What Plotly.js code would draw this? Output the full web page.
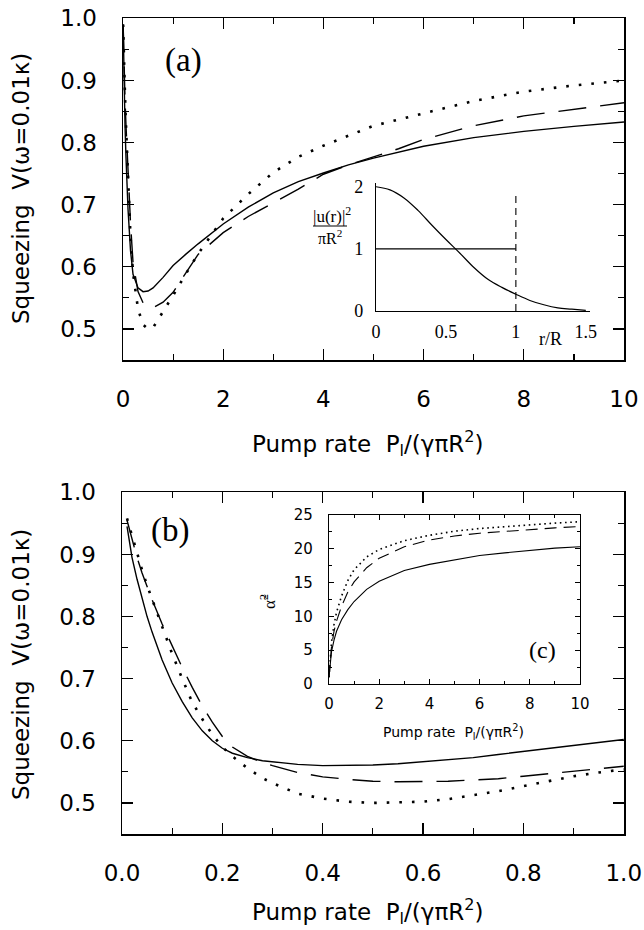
<!DOCTYPE html>
<html>
<head>
<meta charset="utf-8">
<script src="https://cdn.plot.ly/plotly-3.0.1.min.js"></script>
<style>html,body{margin:0;padding:0;background:#fff;}#chart{width:644px;height:930px;}</style>
</head>
<body>
<div id="chart"></div>
<script>
// ---------- Panel (a): squeezing vs pump rate, 0..10 ----------
const aPump = [0.003, 0.01, 0.02, 0.04, 0.06, 0.08, 0.1, 0.15, 0.2, 0.3, 0.4, 0.5, 0.6, 0.8, 1.0, 1.25, 1.5, 2.0, 2.5, 3.0, 3.5, 4.0, 4.5, 5.0, 5.5, 6.0, 7.0, 8.0, 9.0, 10.0];
const aSolid  = [0.99, 0.945, 0.895, 0.828, 0.775, 0.730, 0.693, 0.626, 0.588, 0.566, 0.560, 0.561, 0.566, 0.583, 0.602, 0.620, 0.637, 0.669, 0.696, 0.719, 0.737, 0.751, 0.764, 0.775, 0.784, 0.794, 0.808, 0.818, 0.826, 0.833];
const aDashed = [0.99, 0.955, 0.925, 0.870, 0.827, 0.788, 0.752, 0.670, 0.607, 0.560, 0.542, 0.535, 0.534, 0.543, 0.559, 0.590, 0.620, 0.655, 0.681, 0.703, 0.725, 0.749, 0.764, 0.777, 0.790, 0.805, 0.827, 0.843, 0.854, 0.864];
const aDotted = [0.99, 0.958, 0.930, 0.875, 0.828, 0.782, 0.740, 0.648, 0.590, 0.532, 0.507, 0.500, 0.502, 0.527, 0.554, 0.588, 0.621, 0.678, 0.717, 0.752, 0.777, 0.795, 0.811, 0.827, 0.837, 0.847, 0.867, 0.882, 0.892, 0.900];

// ---------- Inset of (a): mode profile ----------
const rR      = [0, 0.1, 0.2, 0.3, 0.4, 0.5, 0.6, 0.7, 0.8, 0.9, 1.0, 1.1, 1.2, 1.3, 1.4, 1.5];
const uProf   = [2.0, 1.95, 1.82, 1.62, 1.38, 1.15, 0.93, 0.70, 0.51, 0.38, 0.27, 0.17, 0.10, 0.05, 0.03, 0.01];
const stepR   = [0, 1];
const stepU   = [1, 1];
const edgeR   = [1, 1];
const edgeU   = [0, 1.87];

// ---------- Panel (b): squeezing vs pump rate, 0..1 ----------
const bPump = [0.01, 0.02, 0.03, 0.04, 0.05, 0.06, 0.08, 0.10, 0.12, 0.14, 0.16, 0.18, 0.20, 0.22, 0.25, 0.28, 0.30, 0.35, 0.40, 0.45, 0.50, 0.55, 0.60, 0.65, 0.70, 0.75, 0.80, 0.85, 0.90, 0.95, 1.00];
const bSolid  = [0.945, 0.895, 0.860, 0.828, 0.800, 0.775, 0.730, 0.693, 0.663, 0.637, 0.616, 0.600, 0.588, 0.580, 0.573, 0.568, 0.566, 0.562, 0.560, 0.560, 0.561, 0.563, 0.566, 0.569, 0.573, 0.578, 0.583, 0.588, 0.593, 0.597, 0.602];
const bDashed = [0.955, 0.925, 0.895, 0.870, 0.848, 0.827, 0.788, 0.752, 0.718, 0.686, 0.656, 0.630, 0.607, 0.590, 0.575, 0.565, 0.560, 0.549, 0.542, 0.538, 0.535, 0.534, 0.534, 0.535, 0.537, 0.539, 0.543, 0.547, 0.551, 0.555, 0.559];
const bDotted = [0.958, 0.930, 0.900, 0.875, 0.850, 0.828, 0.782, 0.740, 0.700, 0.662, 0.635, 0.610, 0.590, 0.575, 0.556, 0.540, 0.532, 0.515, 0.507, 0.502, 0.500, 0.5005, 0.502, 0.506, 0.512, 0.519, 0.527, 0.535, 0.543, 0.549, 0.554];

// ---------- Inset (c): alpha^2 vs pump rate ----------
const cPump   = [0, 0.05, 0.1, 0.2, 0.3, 0.5, 0.75, 1, 1.5, 2, 3, 4, 5, 6, 7, 8, 9, 10];
const cSolid  = [1.0, 3.5, 4.8, 6.5, 7.8, 9.5, 11.0, 12.2, 14.0, 15.2, 16.8, 17.7, 18.4, 19.0, 19.4, 19.8, 20.1, 20.3];
const cDashed = [1.0, 3.8, 5.5, 7.8, 9.3, 11.5, 13.6, 15.1, 17.2, 18.6, 20.3, 21.3, 21.9, 22.3, 22.6, 22.9, 23.1, 23.3];
const cDotted = [1.0, 4.2, 6.2, 8.8, 10.6, 13.0, 15.3, 16.9, 18.8, 19.9, 21.2, 22.0, 22.6, 23.0, 23.3, 23.6, 23.8, 24.0];

// tick labels
const aXTicks = [0, 2, 4, 6, 8, 10];
const bXTicks = [0, 0.2, 0.4, 0.6, 0.8, 1.0];
const vTicks  = [0.5, 0.6, 0.7, 0.8, 0.9, 1.0];
const insetRTicks = [0, 0.5, 1, 1.5];
const insetRText  = ['0', '0.5', '1', '1.5'];
const insetUTicks = [0, 1, 2];

// ---------- layout helpers ----------
const W = 644, H = 930;
const px = v => v / W;
const py = v => 1 - v / H;
const SANS = 'DejaVu Sans, sans-serif';
const SERIF = 'Liberation Serif, Times New Roman, serif';
const K = '#000';

const SOLID = {color: K, width: 1.4};
const DASH  = {color: K, width: 1.4, dash: '28px,14px'};
const DOT   = {color: K, width: 2.6, dash: '2.6px,10px'};

function tr(x, y, xa, ya, line, shape) {
  return {x: x, y: y, xaxis: xa, yaxis: ya, type: 'scatter', mode: 'lines',
          line: Object.assign({}, line, shape ? {shape: shape} : {}), hoverinfo: 'skip'};
}

const data = [
  tr(aPump, aSolid, 'x', 'y', SOLID),
  tr(aPump, aDashed, 'x', 'y', DASH),
  tr(aPump, aDotted, 'x', 'y', DOT),
  tr(rR, uProf, 'x2', 'y2', {color: K, width: 1.2}, 'spline'),
  tr(stepR, stepU, 'x2', 'y2', {color: K, width: 1.2}),
  tr(edgeR, edgeU, 'x2', 'y2', {color: K, width: 1.1, dash: '7px,5px'}),
  tr(bPump, bSolid, 'x3', 'y3', SOLID),
  tr(bPump, bDashed, 'x3', 'y3', DASH),
  tr(bPump, bDotted, 'x3', 'y3', DOT),
  tr(cPump, cSolid, 'x4', 'y4', {color: K, width: 1.1}),
  tr(cPump, cDashed, 'x4', 'y4', {color: K, width: 1.1, dash: '12px,7px'}),
  tr(cPump, cDotted, 'x4', 'y4', {color: K, width: 1.6, dash: '1.6px,3.6px'})
];

function mainAxis(domain, range, tickvals, ticktext, minorD, standoff) {
  return {
    domain: domain, range: range, tickvals: tickvals, ticktext: ticktext,
    ticks: 'inside', ticklen: 11, tickwidth: 1.3, tickcolor: K,
    minor: {ticks: 'inside', ticklen: 6, tickwidth: 1.2, tickcolor: K, dtick: minorD, showgrid: false},
    showline: true, linecolor: K, linewidth: 1.5, mirror: 'allticks',
    showgrid: false, zeroline: false, fixedrange: true,
    tickfont: {family: SANS, size: 23, color: K},
    ticklabelstandoff: standoff
  };
}

const layout = {
  width: W, height: H,
  margin: {l: 0, r: 0, t: 0, b: 0},
  paper_bgcolor: '#fff', plot_bgcolor: 'rgba(0,0,0,0)',
  showlegend: false,
  xaxis:  Object.assign(mainAxis([px(123), px(624)], [0, 10], aXTicks, aXTicks.map(String), 1, 18), {anchor: 'y'}),
  yaxis:  Object.assign(mainAxis([py(360), py(18)], [0.45, 1.0005], vTicks, vTicks.map(v => v.toFixed(1)), 0.05, 20), {anchor: 'x'}),
  xaxis3: Object.assign(mainAxis([px(122), px(624)], [0, 1.0005], bXTicks, bXTicks.map(v => v.toFixed(1)), 0.1, 18), {anchor: 'y3'}),
  yaxis3: Object.assign(mainAxis([py(834), py(492)], [0.45, 1.0005], vTicks, vTicks.map(v => v.toFixed(1)), 0.05, 20), {anchor: 'x3'}),
  xaxis2: {
    domain: [px(376), px(590)], range: [0, 1.53], anchor: 'y2',
    tickvals: insetRTicks, ticktext: insetRText, ticks: '',
    showline: true, linecolor: K, linewidth: 1.2, showgrid: false, zeroline: false,
    tickfont: {family: SERIF, size: 18, color: K}, ticklabelstandoff: 4, fixedrange: true
  },
  yaxis2: {
    domain: [py(311), py(183)], range: [0, 2.06], anchor: 'x2',
    tickvals: insetUTicks, ticks: '',
    showline: true, linecolor: K, linewidth: 1.2, showgrid: false, zeroline: false,
    tickfont: {family: SERIF, size: 18, color: K}, ticklabelstandoff: 8, fixedrange: true
  },
  xaxis4: {
    domain: [px(329), px(580)], range: [0, 10], anchor: 'y4', dtick: 2,
    ticks: 'inside', ticklen: 5, tickwidth: 1, tickcolor: K,
    minor: {ticks: 'inside', ticklen: 3, tickwidth: 1, tickcolor: K, dtick: 1},
    showline: true, linecolor: K, linewidth: 1.1, mirror: 'allticks',
    showgrid: false, zeroline: false, fixedrange: true,
    tickfont: {family: SANS, size: 15, color: K}, ticklabelstandoff: 6
  },
  yaxis4: {
    domain: [py(684), py(515)], range: [0, 25], anchor: 'x4', dtick: 5,
    ticks: 'inside', ticklen: 5, tickwidth: 1, tickcolor: K,
    minor: {ticks: 'inside', ticklen: 3, tickwidth: 1, tickcolor: K, dtick: 2.5},
    showline: true, linecolor: K, linewidth: 1.1, mirror: 'allticks',
    showgrid: false, zeroline: false, fixedrange: true,
    tickfont: {family: SANS, size: 15, color: K}, ticklabelstandoff: 12
  },
  shapes: [
    {type: 'line', xref: 'paper', yref: 'paper', x0: px(313), x1: px(347), y0: py(226), y1: py(226),
     line: {color: K, width: 1}}
  ],
  annotations: []
};

function ann(text, x, y, font, extra) {
  return Object.assign({text: text, x: px(x), y: py(y), xref: 'paper', yref: 'paper',
    showarrow: false, xanchor: 'center', yanchor: 'middle', font: font}, extra || {});
}
const NB = '\u00a0';
const pumpTitle = 'Pump rate' + NB + NB + 'P<sub>l</sub>/(γπR<sup>2</sup>)';
const vTitle = 'Squeezing' + NB + NB + 'V(ω=0.01κ)';
layout.annotations.push(
  ann('(a)', 183, 61, {family: SERIF, size: 33, color: K}),
  ann('(b)', 170, 530, {family: SERIF, size: 33, color: K}),
  ann('(c)', 542, 650, {family: SERIF, size: 24, color: K}),
  ann(pumpTitle, 367, 443, {family: SANS, size: 23, color: K}),
  ann(pumpTitle, 367, 911, {family: SANS, size: 23, color: K}),
  ann(vTitle, 21, 189, {family: SANS, size: 23, color: K}, {textangle: -90}),
  ann(vTitle, 21, 665, {family: SANS, size: 23, color: K}, {textangle: -90}),
  ann('|u(r)|<sup>2</sup>', 332, 215, {family: SERIF, size: 17, color: K}),
  ann('πR<sup>2</sup>', 330, 237, {family: SERIF, size: 16, color: K}),
  ann('r/R', 550, 339, {family: SERIF, size: 18, color: K}),
  ann(pumpTitle, 453, 732, {family: SANS, size: 14, color: K}),
  ann('α\u0303<sup>2</sup>', 268, 602, {family: SERIF, size: 17, color: K}, {textangle: -90})
);

Plotly.newPlot('chart', data, layout, {displayModeBar: false, staticPlot: true});
</script>
</body>
</html>
